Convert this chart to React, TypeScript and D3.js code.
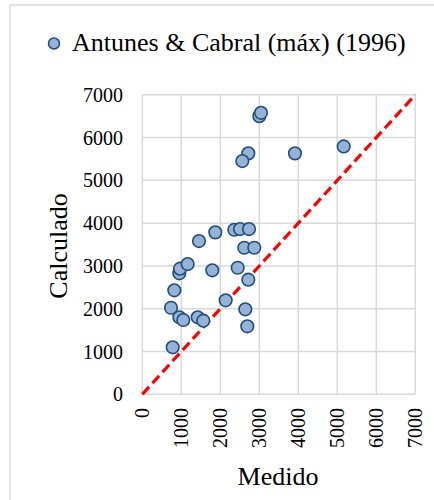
import React from "react";
import * as d3 from "d3";

const medido = [779, 736, 821, 949, 967, 1164, 1454, 1872, 1795, 2138, 949, 1051, 1420, 1564, 2359, 2505, 2736, 2615, 2872, 2446, 2718, 2641, 2692, 3000, 3044, 2718, 2564, 3915, 5164];
const calculado = [1098, 2023, 2430, 2827, 2935, 3044, 3582, 3785, 2897, 2196, 1799, 1736, 1799, 1720, 3846, 3862, 3862, 3425, 3425, 2958, 2678, 1986, 1589, 6502, 6579, 5631, 5451, 5631, 5794];
const ticks = [0, 1000, 2000, 3000, 4000, 5000, 6000, 7000];
const seriesName = "Antunes & Cabral (máx) (1996)";
const xTitle = "Medido";
const yTitle = "Calculado";

export default function App() {
  const x = d3.scaleLinear().domain([0, 7000]).range([142.3, 415.3]);
  const y = d3.scaleLinear().domain([0, 7000]).range([394.3, 94.8]);
  const ts: React.CSSProperties = { fontFamily: "'Liberation Serif', 'DejaVu Serif', serif" };
  const grid = "#d9d9d9";
  return (
    <svg width={434} height={500} style={{ position: "absolute", left: 0, top: 0, background: "#fff" }}>
      <rect x={10} y={5} width={440} height={510} fill="#fff" stroke={grid} strokeWidth={1.5} />
      <circle cx={54} cy={43.5} r={5.5} fill="#95b3d7" stroke="#1f4e79" strokeWidth={1.5} />
      <text x={72} y={50.5} fontSize={26} fill="#000" style={ts}>{seriesName}</text>
      {ticks.map((t) => (
        <line key={"gx" + t} x1={x(t)} x2={x(t)} y1={y(0)} y2={y(7000)} stroke={grid} strokeWidth={1.5} />
      ))}
      {ticks.map((t) => (
        <line key={"gy" + t} x1={x(0)} x2={x(7000)} y1={y(t)} y2={y(t)} stroke={grid} strokeWidth={1.5} />
      ))}
      {ticks.map((t) => (
        <text key={"ty" + t} x={123} y={y(t)} fontSize={20} textAnchor="end" dominantBaseline="central" fill="#000" style={ts}>{t}</text>
      ))}
      {ticks.map((t) => (
        <text key={"tx" + t} transform={`translate(${x(t)},408) rotate(-90)`} fontSize={20} textAnchor="end" dominantBaseline="central" fill="#000" style={ts}>{t}</text>
      ))}
      <line x1={x(0)} y1={y(0)} x2={x(7000)} y2={y(7000)} stroke="#ff0000" strokeWidth={3.2} strokeDasharray="10,5" />
      {medido.map((m, i) => (
        <circle key={"p" + i} cx={x(m)} cy={y(calculado[i])} r={6.3} fill="#95b3d7" stroke="#1f4e79" strokeWidth={1.6} />
      ))}
      <text x={278} y={485} fontSize={26} textAnchor="middle" fill="#000" style={ts}>{xTitle}</text>
      <text transform="translate(58,246) rotate(-90)" fontSize={26} textAnchor="middle" dominantBaseline="central" fill="#000" style={ts}>{yTitle}</text>
    </svg>
  );
}
